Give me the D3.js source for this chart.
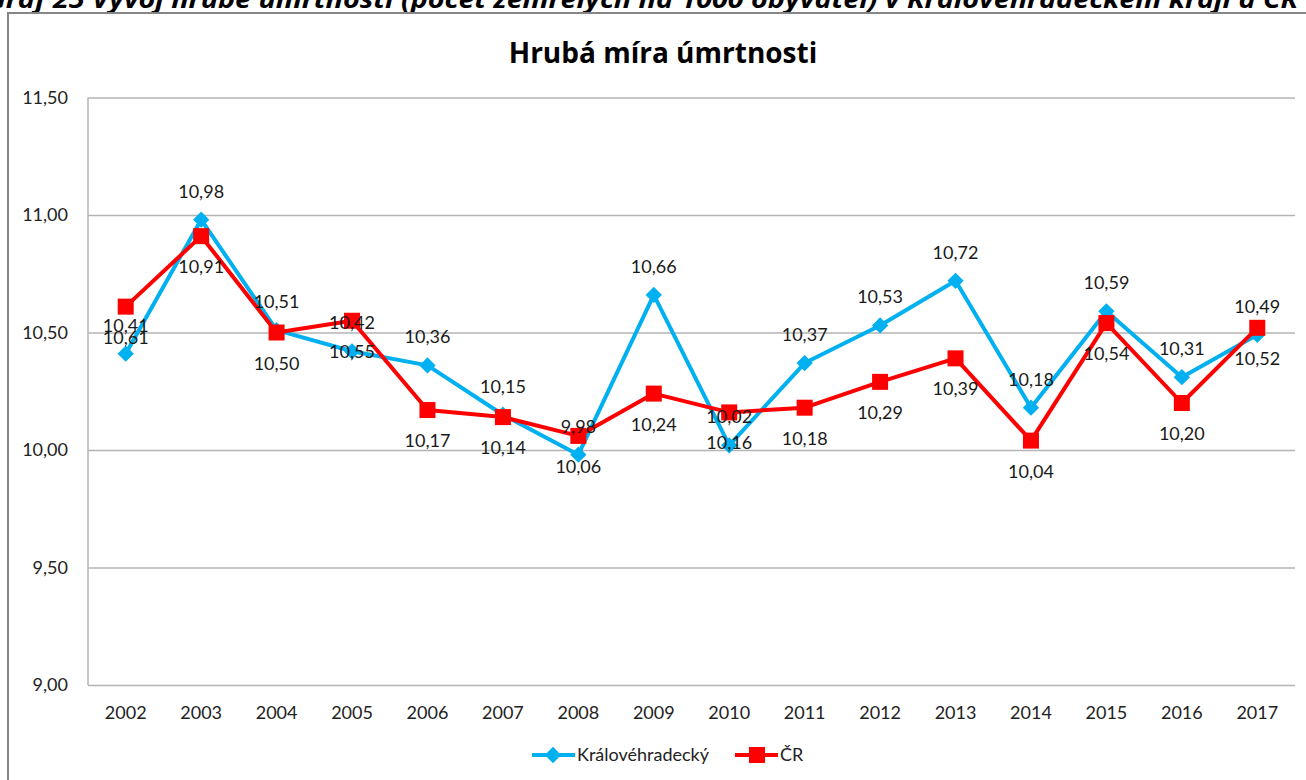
<!DOCTYPE html>
<html>
<head>
<meta charset="utf-8">
<script src="https://cdn.jsdelivr.net/npm/d3@7"></script>
<style>
  body { margin: 0; background: #fff; }
  svg { display: block; font-family: Lato, "Open Sans", sans-serif; }
</style>
</head>
<body>
<div id="chart"></div>
<script>
// hodnoty z grafu
var years = ["2002","2003","2004","2005","2006","2007","2008","2009","2010","2011","2012","2013","2014","2015","2016","2017"];
var khk = [10.41,10.98,10.51,10.42,10.36,10.15,9.98,10.66,10.02,10.37,10.53,10.72,10.18,10.59,10.31,10.49];
var cr  = [10.61,10.91,10.50,10.55,10.17,10.14,10.06,10.24,10.16,10.18,10.29,10.39,10.04,10.54,10.20,10.52];
var yTicks = [9.0, 9.5, 10.0, 10.5, 11.0, 11.5];
var seriesNames = ["Královéhradecký", "ČR"];

var W = 1306, H = 780;
var pLeft = 88, pRight = 1295, pTop = 97.5, pBottom = 685;

var cz = d3.formatLocale({decimal: ",", thousands: " ", grouping: [3], currency: ["", " Kč"]});
var fmt = cz.format(".2f");

var svg = d3.select("#chart").append("svg")
  .attr("width", W).attr("height", H);

// popisek nad grafem (oříznutý)
svg.append("text")
  .attr("x", -14).attr("y", 8)
  .attr("textLength", 1312).attr("lengthAdjust", "spacingAndGlyphs")
  .style("font-family", "'Open Sans', sans-serif")
  .style("font-size", "25px").style("font-weight", "bold").style("font-style", "italic")
  .text("Graf 25 Vývoj hrubé úmrtnosti (počet zemřelých na 1000 obyvatel) v Královéhradeckém kraji a ČR");

// rámeček grafu
svg.append("rect")
  .attr("x", 8).attr("y", 13).attr("width", 1320).attr("height", 800)
  .attr("fill", "#fff").attr("stroke", "#868686").attr("stroke-width", 2);

svg.append("text")
  .attr("x", 663).attr("y", 63)
  .attr("text-anchor", "middle")
  .style("font-family", "'Open Sans', sans-serif")
  .style("font-size", "28px").style("font-weight", "bold")
  .text("Hrubá míra úmrtnosti");

var x = d3.scaleBand().domain(years).range([pLeft, pRight]).padding(0);
var cx = function(d) { return x(d) + x.bandwidth() / 2; };
var y = d3.scaleLinear().domain([9, 11.5]).range([pBottom, pTop]);

// mřížka
var grid = svg.append("g").attr("transform", "translate(" + pLeft + ",0)")
  .call(d3.axisLeft(y).tickValues(yTicks).tickSize(-(pRight - pLeft)).tickFormat(""));
grid.select(".domain").remove();
grid.selectAll("line").attr("stroke", "#b4b4b4").attr("stroke-width", 1.5);

svg.append("line")
  .attr("x1", pLeft).attr("x2", pLeft).attr("y1", pTop).attr("y2", pBottom)
  .attr("stroke", "#b4b4b4").attr("stroke-width", 1.5);

// popisky osy y
svg.selectAll("text.ylab").data(yTicks).enter().append("text")
  .attr("class", "ylab")
  .attr("x", 68).attr("y", function(d) { return y(d) + 6; })
  .attr("text-anchor", "end")
  .style("font-size", "18px").attr("fill", "#222")
  .text(function(d) { return fmt(d); });

// popisky osy x
svg.selectAll("text.xlab").data(years).enter().append("text")
  .attr("class", "xlab")
  .attr("x", cx).attr("y", 719)
  .attr("text-anchor", "middle")
  .style("font-size", "18px").attr("fill", "#222")
  .text(function(d) { return d; });

var line = d3.line()
  .x(function(d, i) { return cx(years[i]); })
  .y(function(d) { return y(d); });

var diamond = d3.symbol().type(d3.symbolDiamond2).size(170);

// Královéhradecký
svg.append("path").datum(khk)
  .attr("d", line).attr("fill", "none")
  .attr("stroke", "#00B0F0").attr("stroke-width", 4).attr("stroke-linejoin", "round");
svg.selectAll("path.khk").data(khk).enter().append("path")
  .attr("class", "khk")
  .attr("d", diamond)
  .attr("transform", function(d, i) { return "translate(" + cx(years[i]) + "," + y(d) + ")"; })
  .attr("fill", "#00B0F0");

// ČR
svg.append("path").datum(cr)
  .attr("d", line).attr("fill", "none")
  .attr("stroke", "#FF0000").attr("stroke-width", 4).attr("stroke-linejoin", "round");
svg.selectAll("rect.cr").data(cr).enter().append("rect")
  .attr("class", "cr")
  .attr("x", function(d, i) { return cx(years[i]) - 8; })
  .attr("y", function(d) { return y(d) - 8; })
  .attr("width", 16).attr("height", 16)
  .attr("fill", "#FF0000");

// popisky hodnot
svg.selectAll("text.lkhk").data(khk).enter().append("text")
  .attr("class", "lkhk")
  .attr("x", function(d, i) { return cx(years[i]); })
  .attr("y", function(d) { return y(d) - 22; })
  .attr("text-anchor", "middle")
  .style("font-size", "18px").attr("fill", "#1a1a1a")
  .text(function(d) { return fmt(d); });
svg.selectAll("text.lcr").data(cr).enter().append("text")
  .attr("class", "lcr")
  .attr("x", function(d, i) { return cx(years[i]); })
  .attr("y", function(d) { return y(d) + 37; })
  .attr("text-anchor", "middle")
  .style("font-size", "18px").attr("fill", "#1a1a1a")
  .text(function(d) { return fmt(d); });

// legenda
var lg = svg.append("g");
lg.append("line").attr("x1", 532).attr("x2", 575).attr("y1", 755).attr("y2", 755)
  .attr("stroke", "#00B0F0").attr("stroke-width", 4);
lg.append("path").attr("d", diamond)
  .attr("transform", "translate(553,755)").attr("fill", "#00B0F0");
lg.append("text").attr("x", 577).attr("y", 761)
  .style("font-size", "18px").attr("fill", "#222").text(seriesNames[0]);
lg.append("line").attr("x1", 735).attr("x2", 778).attr("y1", 755).attr("y2", 755)
  .attr("stroke", "#FF0000").attr("stroke-width", 4);
lg.append("rect").attr("x", 749).attr("y", 747).attr("width", 16).attr("height", 16)
  .attr("fill", "#FF0000");
lg.append("text").attr("x", 780).attr("y", 761)
  .style("font-size", "18px").attr("fill", "#222").text(seriesNames[1]);
</script>
</body>
</html>
